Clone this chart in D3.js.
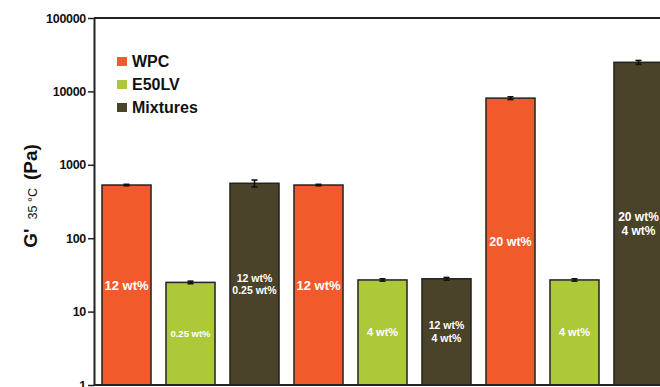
<!DOCTYPE html>
<html>
<head>
<meta charset="utf-8">
<script src="https://cdn.jsdelivr.net/npm/d3@7"></script>
<style>
  body { margin: 0; background: #fff; }
  svg { display: block; font-family: "Liberation Sans", Arial, sans-serif; }
</style>
</head>
<body>
<svg id="chart" width="660" height="387"></svg>
<script>
// data
const groups   = ["WPC", "E50LV", "Mixtures"];
const barGroup = ["WPC", "E50LV", "Mixtures", "WPC", "E50LV", "Mixtures", "WPC", "E50LV", "Mixtures"];
const gValues  = [530, 25, 560, 530, 27, 28, 8100, 27, 24900];
const gErrors  = [12, 1, 60, 12, 1, 1.2, 350, 1, 1500];
const barLabels = [
  ["12 wt%"], ["0.25 wt%"], ["12 wt%", "0.25 wt%"],
  ["12 wt%"], ["4 wt%"], ["12 wt%", "4 wt%"],
  ["20 wt%"], ["4 wt%"], ["20 wt%", "4 wt%"]
];
const yTicks = [1, 10, 100, 1000, 10000, 100000];

const colors = { "WPC": "#f15a2b", "E50LV": "#adc93a", "Mixtures": "#4a4229" };

const svg = d3.select("#chart");

let x = d3.scaleBand()
          .domain(d3.range(gValues.length))
          .range([94, 671])
          .paddingInner(0.234)
          .paddingOuter(0.125);

let y = d3.scaleLog()
          .domain([1, 100000])
          .range([385, 18]);

/* bars */
svg.selectAll(".bar")
  .data(gValues)
  .enter()
  .append("rect")
  .attr("class", "bar")
  .attr("x", (d, i) => x(i))
  .attr("width", x.bandwidth())
  .attr("y", (d) => y(d))
  .attr("height", (d) => y(1) - y(d))
  .attr("fill", (d, i) => colors[barGroup[i]])
  .attr("stroke", "#222")
  .attr("stroke-width", 1.5);

/* error bars */
let eb = svg.selectAll(".err")
  .data(gValues)
  .enter()
  .append("g")
  .attr("class", "err")
  .attr("stroke", "#111")
  .attr("stroke-width", 1.6);
eb.append("line")
  .attr("x1", (d, i) => x(i) + x.bandwidth() / 2)
  .attr("x2", (d, i) => x(i) + x.bandwidth() / 2)
  .attr("y1", (d, i) => y(d - gErrors[i]))
  .attr("y2", (d, i) => y(d + gErrors[i]));
[1, -1].forEach(s => {
  eb.append("line")
    .attr("x1", (d, i) => x(i) + x.bandwidth() / 2 - 3)
    .attr("x2", (d, i) => x(i) + x.bandwidth() / 2 + 3)
    .attr("y1", (d, i) => y(d + s * gErrors[i]))
    .attr("y2", (d, i) => y(d + s * gErrors[i]));
});

/* labels inside bars, centred on the log-midpoint of each bar */
const labelSize = (i) => {
  let g = barGroup[i];
  if (g === "WPC") return i === 6 ? 12.5 : 13;
  if (g === "E50LV") return i === 1 ? 9.5 : 11;
  return i === 8 ? 12 : 10.5;
};
barLabels.forEach((lines, i) => {
  let fs = labelSize(i), lh = fs * 1.22;
  let cy = y(Math.sqrt(gValues[i]));
  let t = svg.append("text")
    .attr("text-anchor", "middle")
    .attr("fill", "#fff")
    .attr("font-weight", "bold")
    .attr("font-size", fs);
  lines.forEach((s, k) => {
    t.append("tspan")
      .attr("x", x(i) + x.bandwidth() / 2)
      .attr("y", cy + fs * 0.36 + (k - (lines.length - 1) / 2) * lh)
      .text(s);
  });
});

/* frame: top line and bottom line */
svg.append("line")
  .attr("x1", 94).attr("x2", 660)
  .attr("y1", y(100000)).attr("y2", y(100000))
  .attr("stroke", "#222").attr("stroke-width", 2);
svg.append("line")
  .attr("x1", 94).attr("x2", 660)
  .attr("y1", y(1)).attr("y2", y(1))
  .attr("stroke", "#222").attr("stroke-width", 2);

/* y axis */
let yAxis = svg.append("g")
  .attr("transform", "translate(94,0)")
  .call(d3.axisLeft(y).tickValues(yTicks).tickFormat(d3.format("d"))
          .tickSizeInner(6).tickSizeOuter(0).tickPadding(2));
yAxis.select(".domain").attr("stroke", "#222").attr("stroke-width", 2);
yAxis.selectAll(".tick line").attr("stroke", "#222").attr("stroke-width", 1.5);
yAxis.selectAll(".tick text")
  .attr("fill", "#111")
  .attr("font-family", "Liberation Sans, Arial, sans-serif")
  .attr("font-weight", "bold")
  .attr("font-size", 12.5)
  .attr("letter-spacing", -0.3);

/* y axis title */
let title = svg.append("text")
  .attr("transform", "translate(37,196) rotate(-90)")
  .attr("text-anchor", "middle")
  .attr("fill", "#111")
  .attr("font-weight", "bold")
  .attr("font-size", 19);
title.append("tspan").text("G'");
title.append("tspan").attr("font-size", 12.5).attr("font-weight", "normal").attr("dx", 9).text("35 °C");
title.append("tspan").attr("dx", 8).text("(Pa)");

/* legend */
let legend = svg.append("g").attr("transform", "translate(117,57)");
groups.forEach((g, k) => {
  let row = legend.append("g").attr("transform", `translate(0,${k * 23})`);
  row.append("rect")
    .attr("width", 10).attr("height", 9)
    .attr("fill", colors[g]);
  row.append("text")
    .attr("x", 15).attr("y", 9.5)
    .attr("fill", "#111")
    .attr("font-weight", "bold")
    .attr("font-size", 16)
    .text(g);
});
</script>
</body>
</html>
